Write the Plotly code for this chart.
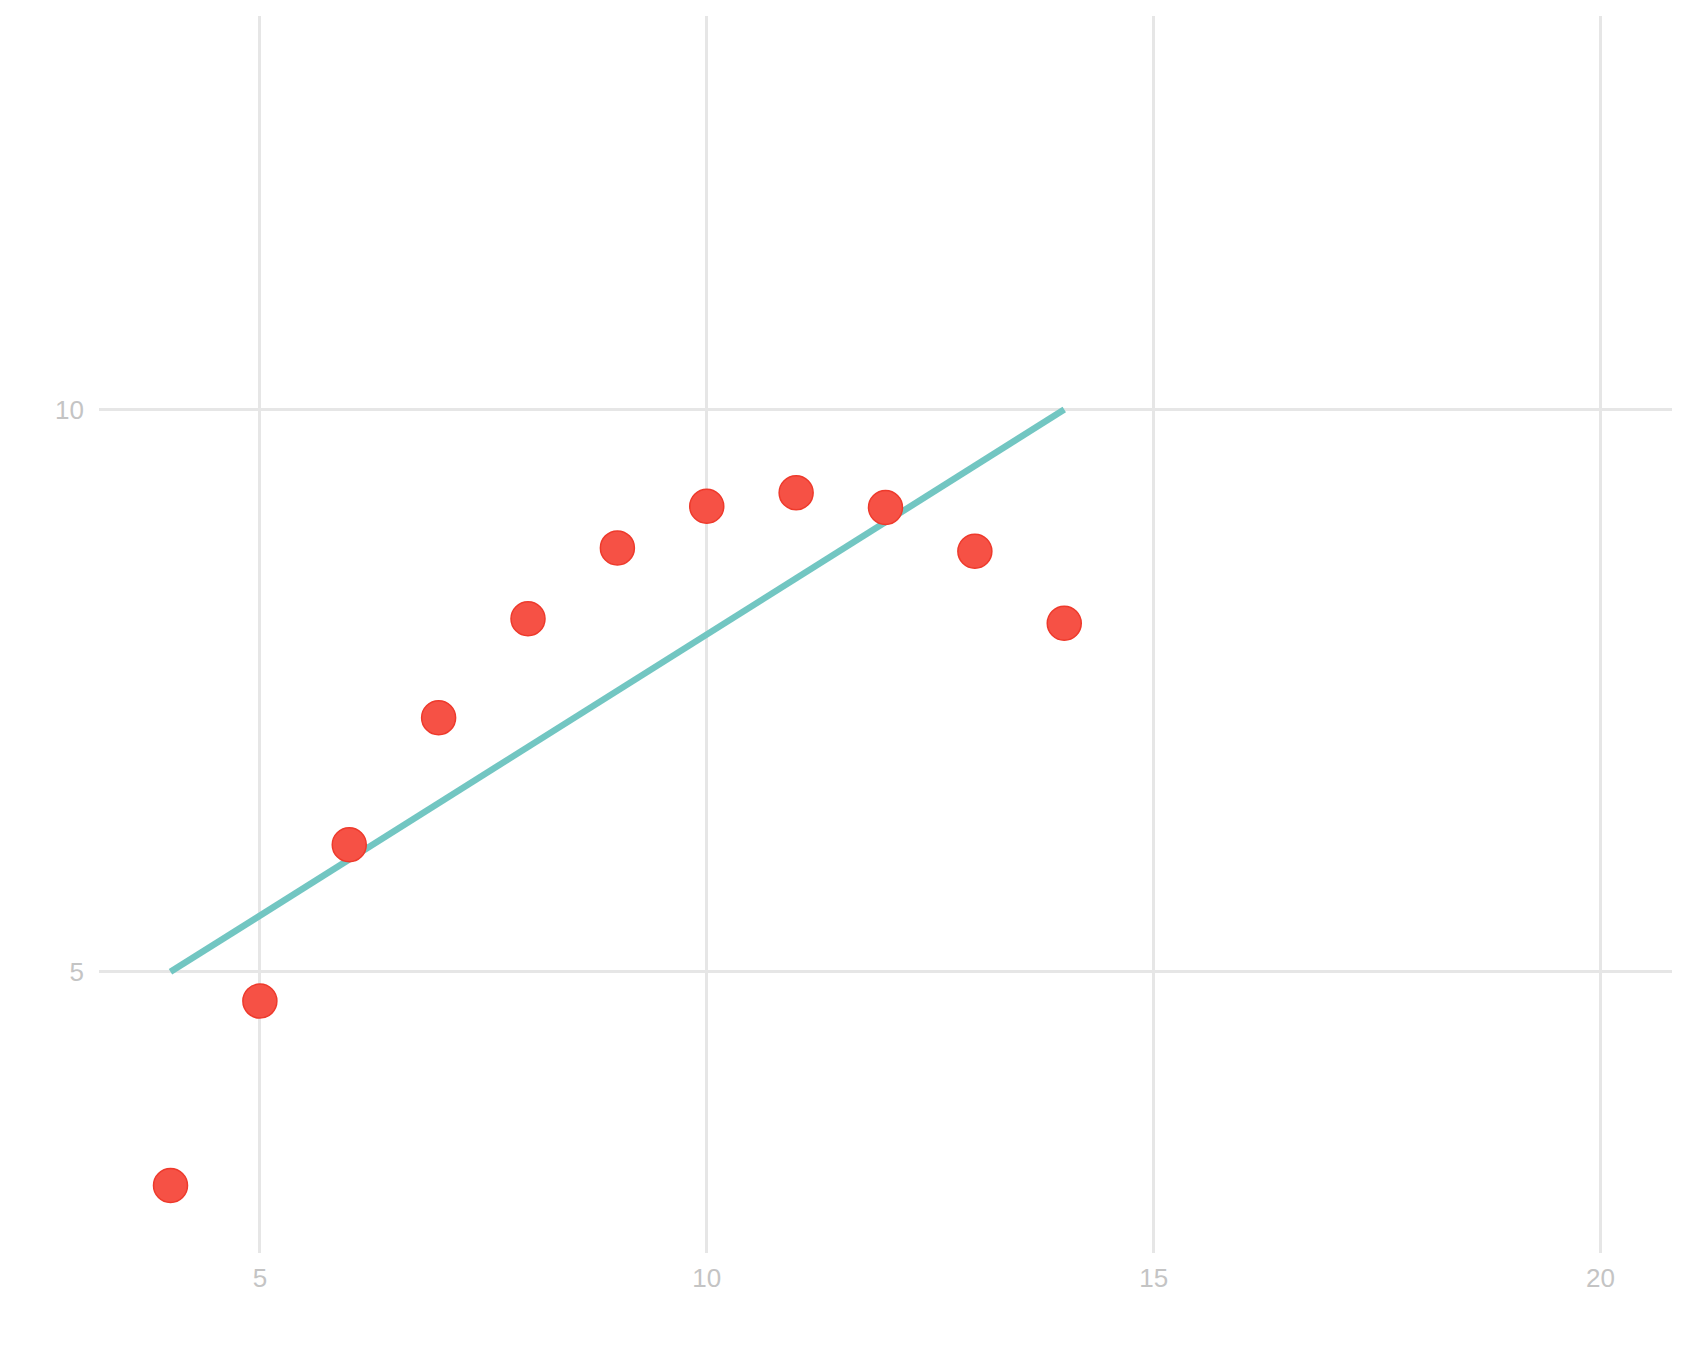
import plotly.graph_objects as go

# Anscombe's quartet, set II
x_vals = [4, 5, 6, 7, 8, 9, 10, 11, 12, 13, 14]
y_vals = [3.10, 4.74, 6.13, 7.26, 8.14, 8.77, 9.14, 9.26, 9.13, 8.74, 8.10]

# Fitted line endpoints
fit_x = [4, 14]
fit_y = [5.0, 10.0]

x_ticks = [5, 10, 15, 20]
y_ticks = [5, 10]

fig = go.Figure()
fig.add_trace(go.Scatter(
    x=fit_x, y=fit_y, mode="lines",
    line=dict(color="#72C6C2", width=6.5),
    showlegend=False, hoverinfo="skip",
))
fig.add_trace(go.Scatter(
    x=x_vals, y=y_vals, mode="markers",
    marker=dict(size=34, color="#F65145", line=dict(color="#EE3A2C", width=1.5)),
    showlegend=False,
))

axis_common = dict(
    showgrid=True, gridcolor="#E6E6E6", gridwidth=3,
    zeroline=False, showline=False, ticks="",
    tickfont=dict(family="Liberation Sans, Arial, sans-serif", size=26, color="#C4C4C4"),
)
fig.update_xaxes(range=[3.2, 20.8], tickvals=x_ticks, ticklabelstandoff=7, **axis_common)
fig.update_yaxes(range=[2.5, 13.5], tickvals=y_ticks, ticklabelstandoff=14, **axis_common)

fig.update_layout(
    width=1688, height=1350,
    margin=dict(l=91, r=24, t=8, b=105),
    plot_bgcolor="white", paper_bgcolor="white",
)

fig.write_html("out.html")
